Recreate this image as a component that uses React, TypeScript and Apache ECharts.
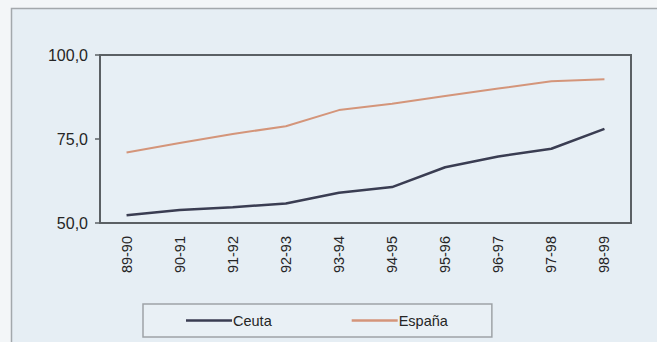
import React, { useEffect, useRef } from "react";
import * as echarts from "echarts";

const categories = ["89-90", "90-91", "91-92", "92-93", "93-94", "94-95", "95-96", "96-97", "97-98", "98-99"];
const ceuta = [52.3, 53.9, 54.7, 55.8, 59.0, 60.7, 66.6, 69.8, 72.1, 78.0];
const espana = [71.0, 73.8, 76.5, 78.8, 83.6, 85.5, 87.8, 90.0, 92.2, 92.8];
const seriesNames = ["Ceuta", "España"];

export default function App() {
  const ref = useRef<HTMLDivElement>(null);
  useEffect(() => {
    if (!ref.current) return;
    const chart = echarts.init(ref.current, undefined, { renderer: "svg" });
    const font = "'Liberation Sans', Arial, sans-serif";
    chart.setOption({
      animation: false,
      backgroundColor: "#f3f6f8",
      graphic: [
        {
          type: "rect",
          z: -10,
          shape: { x: 11.5, y: 8.5, width: 660, height: 350 },
          style: { fill: "#e6eef4", stroke: "#a3a8ac", lineWidth: 1.5 },
        },
      ],
      grid: {
        left: 100,
        right: 26,
        top: 55,
        bottom: 119,
        show: true,
        backgroundColor: "#e7eff5",
        borderColor: "#5b6064",
        borderWidth: 2,
      },
      legend: {
        left: 143,
        top: 304,
        orient: "horizontal",
        data: seriesNames,
        icon: "rect",
        itemWidth: 46,
        itemHeight: 2.5,
        itemGap: 80,
        padding: [9, 44, 9, 43],
        borderColor: "#9ea3a7",
        borderWidth: 1.5,
        backgroundColor: "#e9f0f5",
        textStyle: { fontFamily: font, fontSize: 14.5, color: "#252525", padding: [0, 0, 0, -4] },
      },
      xAxis: {
        type: "category",
        data: categories,
        boundaryGap: true,
        axisLine: { show: true, lineStyle: { color: "#5b6064", width: 2 } },
        axisTick: { show: false },
        axisLabel: { rotate: 90, margin: 13, fontFamily: font, fontSize: 14.5, color: "#252525" },
        splitLine: { show: false },
      },
      yAxis: {
        type: "value",
        min: 50,
        max: 100,
        interval: 25,
        axisLine: { show: true, lineStyle: { color: "#5b6064", width: 2 } },
        axisTick: { show: true, length: 5, lineStyle: { color: "#5b6064", width: 1.5 } },
        axisLabel: {
          margin: 12,
          fontFamily: font,
          fontSize: 16,
          color: "#252525",
          formatter: (v: number) => v.toFixed(1).replace(".", ","),
        },
        splitLine: { show: false },
      },
      series: [
        {
          name: seriesNames[0],
          type: "line",
          data: ceuta,
          symbol: "none",
          lineStyle: { color: "#3a3d52", width: 2.5 },
          itemStyle: { color: "#3a3d52" },
        },
        {
          name: seriesNames[1],
          type: "line",
          data: espana,
          symbol: "none",
          lineStyle: { color: "#d4957a", width: 2 },
          itemStyle: { color: "#d4957a" },
        },
      ],
    });
    return () => chart.dispose();
  }, []);
  return <div ref={ref} style={{ position: "fixed", left: 0, top: 0, width: 657, height: 342 }} />;
}
